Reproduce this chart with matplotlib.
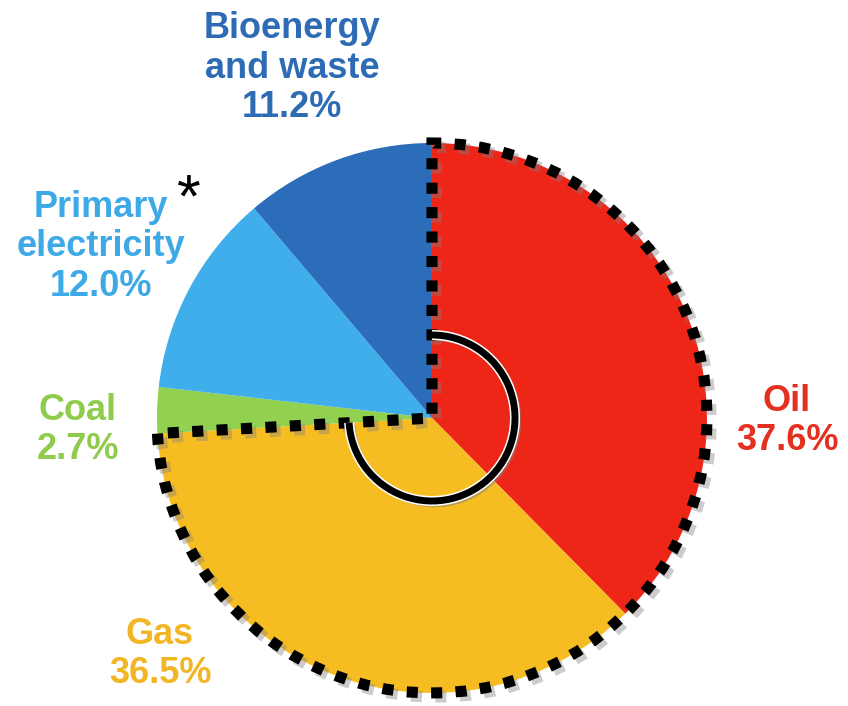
import matplotlib.pyplot as plt
import matplotlib.patches as mpatches
import matplotlib.patheffects as pe

plt.rcParams['font.family'] = ['Liberation Sans', 'DejaVu Sans']

# shares of final energy use, clockwise from 12 o'clock
fuels = ["Oil", "Gas", "Coal", "Primary\nelectricity", "Bioenergy\nand waste"]
shares = [37.6, 36.5, 2.7, 12.0, 11.2]
colors = ["#EE2618", "#F6BD22", "#92D050", "#40AEEB", "#2B6DB9"]
label_colors = ["#E5301F", "#F2B624", "#8FCB4C", "#3DA9E6", "#2E6BB5"]
highlighted = ["Oil", "Gas"]
# label centres (pixels from bottom-left)
label_xy = [(787, 285), (160, 52), (78, 276), (101, 459), (292, 638)]

fig = plt.figure(figsize=(8.48, 7.06), dpi=100)
ax = fig.add_axes([0, 0, 1, 1])

cx, cy, r = 432, 288, 275
ax.pie(shares, colors=colors, startangle=90, counterclock=False,
       center=(cx, cy), radius=r, frame=True,
       wedgeprops=dict(linewidth=0))
ax.set_xlim(0, 848)
ax.set_ylim(0, 706)
ax.set_aspect('equal')
ax.axis('off')

# dotted outline round oil + gas
frac = sum(s for f, s in zip(fuels, shares) if f in highlighted) / sum(shares)
theta1 = 90 - 360 * frac
outline = mpatches.Wedge((cx, cy), r, theta1, 90, fill=False, edgecolor='black',
                         linewidth=8, linestyle=(0, (1, 1.2)), capstyle='butt',
                         joinstyle='miter', zorder=5)
outline.set_path_effects([pe.SimpleLineShadow(offset=(3, -3), shadow_color='gray', alpha=0.4),
                          pe.Normal()])
ax.add_patch(outline)

# inner arc
arc = mpatches.Arc((cx, cy), 166, 166, theta1=theta1, theta2=90,
                   color='black', linewidth=5, capstyle='butt', zorder=6)
arc.set_path_effects([pe.SimpleLineShadow(offset=(2, -2), shadow_color='gray', alpha=0.5),
                      pe.Stroke(linewidth=7.2, foreground='white'), pe.Normal()])
ax.add_patch(arc)

# labels
for name, val, c, (x, y) in zip(fuels, shares, label_colors, label_xy):
    ax.text(x, y, f"{name}\n{val:.1f}%", color=c, fontsize=26, fontweight='bold',
            ha='center', va='center', linespacing=1.17)
ax.text(189, 490, "*", fontsize=44, ha='center', va='baseline')

fig.savefig("out.png", dpi=100)
